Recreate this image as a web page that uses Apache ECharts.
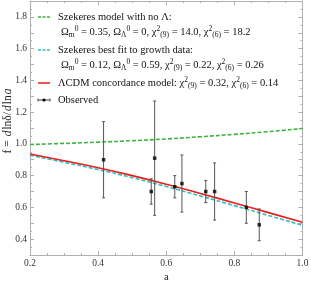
<!DOCTYPE html>
<html><head><meta charset="utf-8">
<script src="https://cdn.jsdelivr.net/npm/echarts@6/dist/echarts.min.js"></script>
<style>html,body{margin:0;padding:0;background:#fff}#c{width:311px;height:284px}</style>
</head><body><div id="c"></div>
<script>
// ---- data ----
const aGrid = [0.2, 0.3, 0.4, 0.5, 0.6, 0.7, 0.8, 0.9, 1.0];
const fNoLambda = [0.996, 1.003, 1.011, 1.020, 1.031, 1.045, 1.060, 1.077, 1.097];
const fBestFit  = [0.928, 0.884, 0.838, 0.787, 0.731, 0.672, 0.611, 0.549, 0.487];
const fLCDM     = [0.936, 0.894, 0.850, 0.800, 0.746, 0.688, 0.628, 0.567, 0.506];
const obsA   = [0.416, 0.556, 0.566, 0.625, 0.646, 0.716, 0.742, 0.835, 0.873];
const obsF   = [0.90, 0.70, 0.91, 0.73, 0.75, 0.70, 0.70, 0.60, 0.49];
const obsErr = [0.24, 0.08, 0.36, 0.07, 0.18, 0.07, 0.18, 0.10, 0.10];
const xTicks = [0.2, 0.4, 0.6, 0.8, 1.0];
const yTickLabels = [0.4, 0.6, 0.8, 1.0, 1.2, 1.4, 1.6, 1.8];
const legendText = [
  'Szekeres model with no Λ:',
  '{t|Ω}{sub|m}{sup|0}{t| = 0.35, Ω}{sub|Λ}{sup|0}{t| = 0, χ}{sup|2}{sub|(9)}{t| = 14.0, χ}{sup|2}{sub|(6)}{t| = 18.2}',
  'Szekeres best fit to growth data:',
  '{t|Ω}{sub|m}{sup|0}{t| = 0.12, Ω}{sub|Λ}{sup|0}{t| = 0.59, χ}{sup|2}{sub|(9)}{t| = 0.22, χ}{sup|2}{sub|(6)}{t| = 0.26}',
  '{t|ΛCDM concordance model: χ}{sup|2}{sub|(9)}{t| = 0.32, χ}{sup|2}{sub|(6)}{t| = 0.14}',
  'Observed'
];

const FONT = "'Liberation Serif', 'DejaVu Serif', serif";
const GREEN = '#3cb43c', CYAN = '#2fc0c0', RED = '#ee1c1c', AX = '#b0b0b0';

const pair = (xs, ys) => xs.map((x, i) => [x, ys[i]]);
const rich = {
  t:   {fontFamily: FONT, fontSize: 10.5, lineHeight: 14, verticalAlign: 'middle', color: '#111'},
  sub: {fontFamily: FONT, fontSize: 7.5, lineHeight: 14, verticalAlign: 'bottom', color: '#111'},
  sup: {fontFamily: FONT, fontSize: 7.5, lineHeight: 14, verticalAlign: 'top', color: '#111'}
};

function axisCommon(extra) {
  return Object.assign({
    type: 'value',
    axisLine: {show: true, onZero: false, lineStyle: {color: AX, width: 1}},
    axisTick: {show: true, inside: true, length: 4, lineStyle: {color: AX}},
    minorTick: {show: true, length: 2, lineStyle: {color: AX}},
    splitLine: {show: false},
    axisLabel: {show: true, fontFamily: FONT, fontSize: 9.5, color: '#333', margin: 3}
  }, extra);
}
const yFmt = v => { const k = Math.round(v * 10); return (k % 2 === 0 && yTickLabels.includes(k / 10)) ? (k / 10).toFixed(1) : ''; };

const chart = echarts.init(document.getElementById('c'), null, {renderer: 'canvas'});

const legendGraphics = [];
const iconX1 = 38, iconX2 = 50, textX = 58, subX = 61;
const rowsY = [17, 32, 50, 65, 83, 100];
legendGraphics.push({type: 'line', shape: {x1: iconX1, y1: rowsY[0], x2: iconX2, y2: rowsY[0]}, style: {stroke: GREEN, lineWidth: 1.5, lineDash: [3, 1.5]}});
legendGraphics.push({type: 'line', shape: {x1: iconX1, y1: rowsY[2], x2: iconX2, y2: rowsY[2]}, style: {stroke: CYAN, lineWidth: 1.5, lineDash: [3, 1.5]}});
legendGraphics.push({type: 'line', shape: {x1: iconX1, y1: rowsY[4], x2: iconX2, y2: rowsY[4]}, style: {stroke: RED, lineWidth: 1.5}});
legendGraphics.push({type: 'line', shape: {x1: iconX1, y1: rowsY[5], x2: iconX2, y2: rowsY[5]}, style: {stroke: '#444', lineWidth: 1}});
legendGraphics.push({type: 'line', shape: {x1: iconX1, y1: rowsY[5] - 1.5, x2: iconX1, y2: rowsY[5] + 1.5}, style: {stroke: '#444', lineWidth: 1}});
legendGraphics.push({type: 'line', shape: {x1: iconX2, y1: rowsY[5] - 1.5, x2: iconX2, y2: rowsY[5] + 1.5}, style: {stroke: '#444', lineWidth: 1}});
legendGraphics.push({type: 'circle', shape: {cx: (iconX1 + iconX2) / 2, cy: rowsY[5], r: 1.6}, style: {fill: '#000'}});
legendText.forEach((txt, i) => {
  const isRich = txt.indexOf('{') >= 0;
  legendGraphics.push({
    type: 'text',
    x: (i === 1 || i === 3) ? subX : textX,
    y: rowsY[i],
    style: Object.assign({
      text: txt,
      fontFamily: FONT, fontSize: 10.5, fill: '#111',
      verticalAlign: 'middle', align: 'left'
    }, isRich ? {rich: rich} : {})
  });
});

chart.setOption({
  animation: false,
  backgroundColor: '#fff',
  grid: {left: 30, right: 8.5, top: 1, bottom: 29, containLabel: false, outerBoundsMode: 'none'},
  xAxis: [
    axisCommon({min: 0.2, max: 1.0, interval: 0.2, position: 'bottom',
      minorTick: {show: true, splitNumber: 4, length: 2, lineStyle: {color: AX}},
      axisLabel: {show: true, fontFamily: FONT, fontSize: 9.5, color: '#333', margin: 3,
        formatter: v => xTicks.some(t => Math.abs(t - v) < 1e-6) ? v.toFixed(1) : ''},
      name: 'a', nameLocation: 'middle', nameGap: 17, nameMoveOverlap: false,
      nameTextStyle: {fontFamily: FONT, fontSize: 10.5, color: '#222'}}),
    axisCommon({min: 0.2, max: 1.0, interval: 0.2, position: 'top',
      minorTick: {show: true, splitNumber: 4, length: 2, lineStyle: {color: AX}},
      axisLabel: {show: false}})
  ],
  yAxis: [
    axisCommon({min: 0.3, max: 1.9, interval: 0.1, position: 'left',
      minorTick: {show: true, splitNumber: 2, length: 2, lineStyle: {color: AX}},
      axisLabel: {show: true, fontFamily: FONT, fontSize: 9.5, color: '#333', margin: 3, formatter: yFmt},
      name: '{t|f = }{i|d}{t|ln}{t|δ/}{i|d}{t|ln}{i|a}', nameLocation: 'middle', nameGap: 16, nameRotate: 90,
      nameMoveOverlap: false,
      nameTextStyle: {fontFamily: FONT, fontSize: 11.5, color: '#222', padding: [0, 0, 0, 15],
        rich: {t: {fontFamily: FONT, fontSize: 11.5, color: '#222'}, i: {fontFamily: FONT, fontSize: 11.5, fontStyle: 'italic', color: '#222', padding: [0, 1, 0, 1]}}}}),
    axisCommon({min: 0.3, max: 1.9, interval: 0.1, position: 'right',
      minorTick: {show: true, splitNumber: 2, length: 2, lineStyle: {color: AX}},
      axisLabel: {show: false}})
  ],
  series: [
    {type: 'line', name: 'noLambda', data: pair(aGrid, fNoLambda), smooth: true, symbol: 'none',
      lineStyle: {color: GREEN, width: 1.6, type: [4, 2]}, z: 3},
    {type: 'line', name: 'bestfit', data: pair(aGrid, fBestFit), smooth: true, symbol: 'none',
      lineStyle: {color: CYAN, width: 1.6, type: [4, 2]}, z: 3},
    {type: 'line', name: 'LCDM', data: pair(aGrid, fLCDM), smooth: true, symbol: 'none',
      lineStyle: {color: RED, width: 1.6}, z: 4},
    {type: 'custom', name: 'err', data: obsA.map((a, i) => [a, obsF[i], obsErr[i]]), z: 5,
      renderItem: function (params, api) {
        const x = api.value(0), y = api.value(1), e = api.value(2);
        const top = api.coord([x, y + e]), bot = api.coord([x, y - e]);
        const cw = 1.5, st = {stroke: '#555', lineWidth: 1};
        return {type: 'group', children: [
          {type: 'line', shape: {x1: top[0], y1: top[1], x2: bot[0], y2: bot[1]}, style: st},
          {type: 'line', shape: {x1: top[0] - cw, y1: top[1], x2: top[0] + cw, y2: top[1]}, style: st},
          {type: 'line', shape: {x1: bot[0] - cw, y1: bot[1], x2: bot[0] + cw, y2: bot[1]}, style: st}
        ]};
      }},
    {type: 'scatter', name: 'obs', data: pair(obsA, obsF), symbol: 'rect', symbolSize: 3.5,
      itemStyle: {color: '#000'}, z: 6}
  ],
  graphic: legendGraphics
});
</script></body></html>
